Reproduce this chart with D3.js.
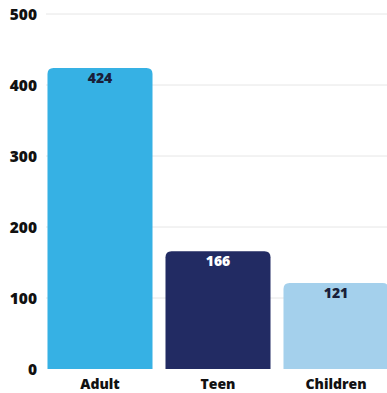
<!DOCTYPE html>
<html>
<head>
<meta charset="utf-8">
<script src="https://cdn.jsdelivr.net/npm/d3@7"></script>
<style>
  body { margin: 0; background: #fff; }
  text { font-family: "Open Sans", Lato, sans-serif; font-weight: 800; }
</style>
</head>
<body>
<div id="chart"></div>
<script>
const categories = ["Adult", "Teen", "Children"];
const values = [424, 166, 121];
const colors = ["#36b1e4", "#222b63", "#a4d0ec"];
const labelColors = ["#1a1f3a", "#ffffff", "#1a1f3a"];
const yTicks = [0, 100, 200, 300, 400, 500];

const width = 387, height = 393;

const svg = d3.select("#chart").append("svg")
  .attr("width", width)
  .attr("height", height);

const x = d3.scaleBand()
  .domain(categories)
  .range([41, 395])
  .paddingInner(0.11)
  .paddingOuter(0.055);

const y = d3.scaleLinear()
  .domain([0, 500])
  .range([369, 14]);

// gridlines
svg.append("g")
  .selectAll("line")
  .data(yTicks.filter(d => d > 0))
  .enter()
  .append("line")
  .attr("x1", 46)
  .attr("x2", width)
  .attr("y1", d => y(d))
  .attr("y2", d => y(d))
  .attr("stroke", "#e6e6e6")
  .attr("stroke-width", 1);

// y labels
svg.append("g")
  .selectAll("text")
  .data(yTicks)
  .enter()
  .append("text")
  .attr("x", 37)
  .attr("y", d => y(d))
  .attr("dy", "0.36em")
  .attr("text-anchor", "end")
  .attr("font-size", 15.5)
  .attr("fill", "#111")
  .text(d => d);

// bars with rounded top corners
const r = 6;
function barPath(x0, y0, w, h) {
  return `M${x0},${y0 + h}V${y0 + r}Q${x0},${y0} ${x0 + r},${y0}H${x0 + w - r}Q${x0 + w},${y0} ${x0 + w},${y0 + r}V${y0 + h}Z`;
}

svg.append("g")
  .selectAll("path")
  .data(categories)
  .enter()
  .append("path")
  .attr("d", (d, i) => barPath(x(d), y(values[i]), x.bandwidth(), y(0) - y(values[i])))
  .attr("fill", (d, i) => colors[i]);

// value labels
svg.append("g")
  .selectAll("text")
  .data(categories)
  .enter()
  .append("text")
  .attr("x", d => x(d) + x.bandwidth() / 2)
  .attr("y", (d, i) => y(values[i]) + 15)
  .attr("text-anchor", "middle")
  .attr("font-size", 14)
  .attr("fill", (d, i) => labelColors[i])
  .text((d, i) => values[i]);

// x labels
svg.append("g")
  .selectAll("text")
  .data(categories)
  .enter()
  .append("text")
  .attr("x", d => x(d) + x.bandwidth() / 2)
  .attr("y", 389)
  .attr("text-anchor", "middle")
  .attr("font-size", 14)
  .attr("fill", "#111")
  .text(d => d);
</script>
</body>
</html>
